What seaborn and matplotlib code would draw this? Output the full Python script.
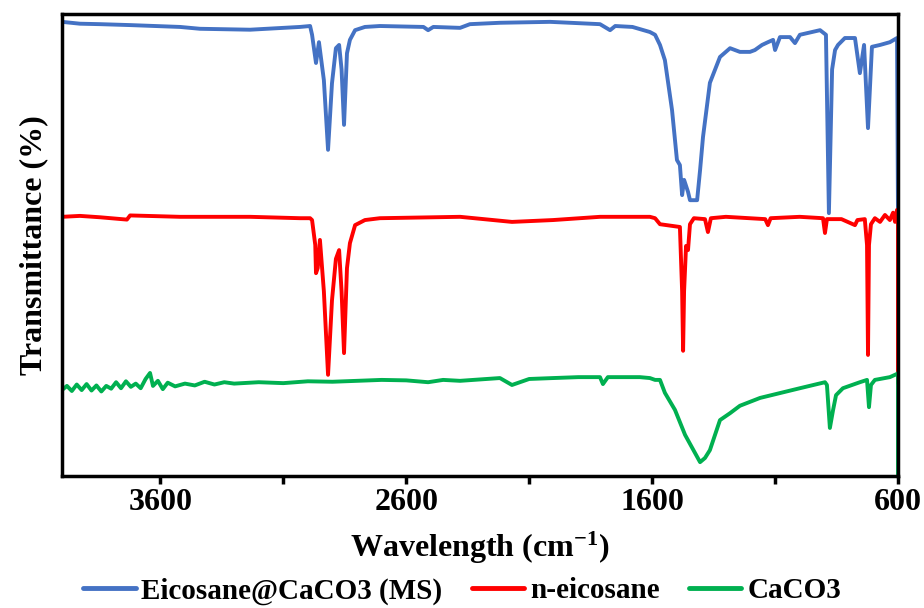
import pandas as pd
import seaborn as sns
import matplotlib.pyplot as plt

# FTIR spectra, values (offset transmittance, arbitrary units)
blue_wn = [4000, 3927, 3845, 3723, 3520, 3439, 3235, 3032, 2991, 2983, 2967, 2955, 2935,
           2918, 2902, 2886, 2873, 2863, 2853, 2841, 2829, 2808, 2768, 2707, 2530, 2511,
           2490, 2381, 2341, 2219, 2015, 1812, 1771, 1750, 1680, 1609, 1588, 1568, 1548,
           1519, 1499, 1487, 1478, 1470, 1454, 1446, 1417, 1405, 1393, 1365, 1324, 1283,
           1243, 1202, 1182, 1153, 1129, 1108, 1100, 1080, 1039, 1019, 999, 917, 893, 881,
           868, 856, 844, 816, 775, 755, 738, 722, 706, 673, 633, 604, 600]
blue_t = [98.3, 97.9, 97.8, 97.6, 97.2, 96.8, 96.6, 97.2, 97.4, 95.5, 89.4, 93.9, 85.7,
          70.6, 85.0, 92.6, 93.3, 88.0, 76.0, 91.5, 94.4, 96.5, 97.2, 97.4, 97.2, 96.5,
          97.2, 97.0, 97.8, 98.1, 98.3, 97.8, 96.5, 97.4, 97.2, 96.1, 95.5, 93.3, 90.0,
          79.2, 68.4, 67.3, 60.8, 64.1, 61.5, 59.7, 59.7, 66.2, 73.4, 85.1, 90.7, 92.6,
          91.8, 91.8, 92.2, 93.3, 93.9, 94.4, 92.2, 95.0, 95.0, 93.7, 95.5, 96.5, 95.5, 56.9,
          88.0, 92.2, 93.3, 94.8, 94.8, 87.2, 93.3, 75.3, 92.9, 93.3, 93.9, 94.8, 56.5]

red_wn = [4000, 4000, 3927, 3845, 3736, 3723, 3520, 3235, 3032, 2991, 2983, 2970, 2967,
          2960, 2951, 2935, 2918, 2902, 2886, 2873, 2863, 2853, 2841, 2829, 2808, 2768,
          2707, 2381, 2170, 2003, 1812, 1609, 1588, 1568, 1487, 1478, 1474, 1470, 1462,
          1454, 1446, 1430, 1385, 1373, 1361, 1300, 1140, 1129, 1118, 1000, 905, 897, 889,
          830, 775, 765, 735, 726, 722, 718, 710, 694, 673, 653, 633, 620, 612, 604, 600, 600]
red_t = [19.3, 56.1, 56.3, 56.0, 55.5, 56.4, 56.1, 56.1, 55.8, 55.8, 55.4, 50.0, 43.9,
         45.0, 51.1, 40.0, 21.9, 38.0, 47.0, 48.9, 40.0, 26.6, 45.0, 50.4, 54.3, 55.4,
         55.8, 56.1, 55.0, 55.4, 56.1, 56.1, 55.8, 54.5, 53.9, 40.0, 27.1, 40.0, 49.8,
         48.9, 54.5, 55.8, 55.6, 52.8, 55.8, 56.1, 55.6, 54.3, 55.8, 56.1, 55.8, 52.6, 55.6,
         55.6, 54.3, 55.4, 55.6, 50.0, 26.2, 50.0, 54.5, 55.8, 55.0, 56.5, 55.4, 57.0, 55.0,
         57.6, 56.5, 20.1]

green_wn = [4000, 4000, 3980, 3960, 3940, 3920, 3900, 3880, 3860, 3840, 3820, 3800, 3780,
            3760, 3740, 3720, 3700, 3680, 3660, 3642, 3630, 3610, 3590, 3570, 3540, 3500,
            3460, 3420, 3380, 3340, 3300, 3200, 3100, 3000, 2900, 2800, 2700, 2600, 2511,
            2450, 2381, 2219, 2170, 2100, 2003, 1900, 1812, 1800, 1780, 1650, 1609, 1588,
            1568, 1548, 1507, 1466, 1405, 1385, 1365, 1324, 1283, 1243, 1161, 999, 897, 889,
            877, 864, 852, 824, 755, 726, 718, 710, 694, 633, 604, 600, 600]
green_t = [-5.0, 18.6, 19.5, 18.4, 19.8, 18.6, 19.9, 18.5, 19.6, 18.3, 19.5, 18.9, 20.3,
           19.0, 20.5, 19.3, 20.0, 19.0, 21.0, 22.3, 19.5, 20.6, 18.8, 20.2, 19.4, 20.0,
           19.6, 20.4, 19.8, 20.3, 20.0, 20.3, 20.1, 20.5, 20.4, 20.6, 20.8, 20.7, 20.3,
           20.8, 20.6, 21.2, 19.7, 21.0, 21.2, 21.4, 21.4, 19.9, 21.4, 21.4, 21.2, 20.8,
           20.8, 18.0, 14.3, 8.9, 3.0, 3.9, 5.6, 12.1, 13.6, 15.2, 16.9, 19.0, 20.3, 19.7,
           10.4, 14.3, 17.5, 19.0, 20.3, 20.8, 14.9, 19.7, 20.8, 21.4, 22.1, 22.3, -5.0]

labels = ["Eicosane@CaCO3 (MS)", "n-eicosane", "CaCO3"]
colors = {"Eicosane@CaCO3 (MS)": "#4472C4", "n-eicosane": "#FF0000", "CaCO3": "#00B050"}

df = pd.concat([
    pd.DataFrame({"wn": blue_wn, "T": blue_t, "Sample": labels[0]}),
    pd.DataFrame({"wn": red_wn, "T": red_t, "Sample": labels[1]}),
    pd.DataFrame({"wn": green_wn, "T": green_t, "Sample": labels[2]}),
], ignore_index=True)

sns.set_theme(style="white")
plt.rcParams["font.family"] = ["Liberation Serif", "DejaVu Serif"]
plt.rcParams["font.weight"] = "bold"
plt.rcParams["text.color"] = "black"
plt.rcParams["axes.labelcolor"] = "black"
plt.rcParams["xtick.color"] = "black"
plt.rcParams["mathtext.fontset"] = "custom"
plt.rcParams["mathtext.rm"] = "Liberation Serif:bold"
plt.rcParams["mathtext.it"] = "Liberation Serif:bold"
plt.rcParams["mathtext.bf"] = "Liberation Serif:bold"

fig = plt.figure(figsize=(9.24, 6.08), dpi=100)
ax = fig.add_axes([62 / 924, 1 - 476 / 608, 836 / 924, 462 / 608])

sns.lineplot(data=df, x="wn", y="T", hue="Sample", palette=colors, sort=False,
             estimator=None, linewidth=2.8, ax=ax)

ax.set_xlim(4000, 600)
ax.set_ylim(0, 100)
ax.set_xticks([3600, 2600, 1600, 600])
ax.set_xticks([3100, 2100, 1100], minor=True)
ax.tick_params(axis="x", which="both", direction="out", length=6, width=2.5,
               labelsize=23, pad=3, color="black", labelcolor="black", bottom=True)
ax.set_yticks([])
for s in ax.spines.values():
    s.set_color("black")
    s.set_linewidth(2.5)

ax.set_xlabel("Wavelength (cm$^{-1}$)", fontsize=23, fontweight="bold", labelpad=9,
              color="black")
ax.set_ylabel("Transmittance (%)", fontsize=23, fontweight="bold", labelpad=10,
              color="black")

handles, labs = ax.get_legend_handles_labels()
ax.get_legend().remove()
leg = fig.legend(handles, labs, loc="center", bbox_to_anchor=(0.5, 1 - 591 / 608),
                 ncol=3, frameon=False, fontsize=21, handlelength=1.8,
                 handletextpad=0.2, columnspacing=1.0, labelcolor="black")
for h in leg.legend_handles:
    h.set_linewidth(3.5)

fig.savefig("out.png", dpi=100)
